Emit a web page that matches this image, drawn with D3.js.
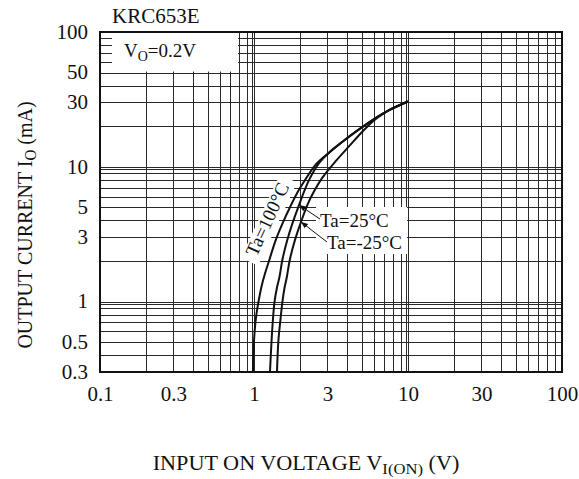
<!DOCTYPE html>
<html><head><meta charset="utf-8">
<script src="https://cdn.jsdelivr.net/npm/d3@7"></script>
<style>
body{margin:0;background:#fff;}
svg{display:block;}
text{font-family:"Liberation Serif","Times New Roman",serif;fill:#111;}
</style></head>
<body>
<script>
// ---- data ----
const title = "KRC653E";
const xTickValues = [0.1, 0.3, 1, 3, 10, 30, 100];
const xTickLabels = ["0.1", "0.3", "1", "3", "10", "30", "100"];
const yTickValues = [0.3, 0.5, 1, 3, 5, 10, 30, 50, 100];
const yTickLabels = ["0.3", "0.5", "1", "3", "5", "10", "30", "50", "100"];
// [V_I(ON) (V), I_O (mA)]
const ta100 = [[0.985,0.3],[1.0,0.51],[1.03,0.76],[1.07,1.0],[1.12,1.3],[1.18,1.62],[1.26,2.05],[1.38,2.83],[1.53,3.78],[1.74,5.2],[1.95,6.7],[2.15,8.0],[2.5,10.3],[3.04,12.6],[3.77,15.4],[4.73,18.7],[5.95,22.4],[7.59,26.4],[10,30.5]];
const ta25 = [[1.27,0.3],[1.3,0.51],[1.33,0.76],[1.36,1.0],[1.41,1.27],[1.46,1.5],[1.53,2.05],[1.64,2.83],[1.79,3.9],[1.96,5.2],[2.12,6.6],[2.28,8.0],[2.45,9.3],[2.65,10.7],[3.04,12.6],[3.77,15.4],[4.73,18.7],[5.95,22.4],[7.59,26.4],[10,30.5]];
const taM25 = [[1.41,0.3],[1.44,0.51],[1.49,0.76],[1.53,1.0],[1.58,1.27],[1.63,1.5],[1.71,2.05],[1.84,2.83],[2.02,3.9],[2.22,5.2],[2.46,6.6],[2.78,8.3],[3.39,11.0],[4.19,14.4],[4.96,17.8],[5.6,20.5],[6.3,23.0],[7.59,26.4],[10,30.5]];

const W = 579, H = 479;
const M = {left:100, right:562, top:32, bottom:372};
const FS = 20, SX = 1.05, FS2 = 19;

const svg = d3.select("body").append("svg").attr("width", W).attr("height", H);
const x = d3.scaleLog().domain([0.1, 100]).range([M.left, M.right]);
const y = d3.scaleLog().domain([0.3, 100]).range([M.bottom, M.top]);

// grid values
const xGrid = [];
[0.1, 1, 10].forEach(d => { for (let k = 1; k <= 9; k++) xGrid.push(d * k); });
const yGrid = [];
for (let k = 3; k <= 9; k++) yGrid.push(0.1 * k);
[1, 10].forEach(d => { for (let k = 1; k <= 9; k++) yGrid.push(d * k); });

const g = svg.append("g");
const gridCol = "#2a2a2a";
g.selectAll(".vg").data(xGrid.filter(v => v > 0.1)).enter().append("line")
  .attr("x1", d => Math.round(x(d)) + 0.5).attr("x2", d => Math.round(x(d)) + 0.5)
  .attr("y1", M.top).attr("y2", M.bottom).attr("stroke", gridCol).attr("stroke-width", 1);
g.selectAll(".vg2").data([1, 10]).enter().append("line")
  .attr("x1", d => Math.round(x(d)) - 1.5).attr("x2", d => Math.round(x(d)) - 1.5)
  .attr("y1", M.top).attr("y2", M.bottom).attr("stroke", gridCol).attr("stroke-width", 1);
g.selectAll(".hg").data(yGrid.filter(v => v > 0.3)).enter().append("line")
  .attr("y1", d => Math.round(y(d)) + 0.5).attr("y2", d => Math.round(y(d)) + 0.5)
  .attr("x1", M.left).attr("x2", M.right).attr("stroke", gridCol).attr("stroke-width", 1);
g.selectAll(".hg2").data([1, 10]).enter().append("line")
  .attr("y1", d => Math.round(y(d)) + 2.5).attr("y2", d => Math.round(y(d)) + 2.5)
  .attr("x1", M.left).attr("x2", M.right).attr("stroke", gridCol).attr("stroke-width", 1);

// white label backgrounds
svg.append("rect").attr("x", 112).attr("y", M.top).attr("width", x(0.8) - 113).attr("height", y(50) - M.top - 1).attr("fill", "#fff");
svg.append("rect").attr("x", 316).attr("y", 207).attr("width", 91).attr("height", 47).attr("fill", "#fff");
const lab100 = svg.append("g").attr("transform", "translate(273,222) rotate(-65)");
lab100.append("rect").attr("x", -46).attr("y", -14).attr("width", 92).attr("height", 19).attr("fill", "#fff");

// curves
const line = d3.line().x(d => x(d[0])).y(d => y(d[1])).curve(d3.curveCatmullRom.alpha(0.5));
[ta100, ta25, taM25].forEach(s => {
  svg.append("path").attr("d", line(s)).attr("fill", "none").attr("stroke", "#111").attr("stroke-width", 2);
});

// border
svg.append("rect").attr("x", M.left).attr("y", M.top).attr("width", M.right - M.left).attr("height", M.bottom - M.top)
  .attr("fill", "none").attr("stroke", "#111").attr("stroke-width", 2);

// axes tick labels
const xAxis = d3.axisBottom(x).tickValues(xTickValues).tickFormat((d, i) => xTickLabels[i]).tickSize(0).tickPadding(0);
const xa = svg.append("g").attr("transform", `translate(0,${M.bottom + 15})`).call(xAxis);
xa.select(".domain").remove();
xa.selectAll("text").attr("font-size", FS).attr("font-family", '"Liberation Serif",serif').attr("fill", "#111")
  .attr("dy", "0.71em").attr("transform", `scale(${SX},1)`);

const yAxis = d3.axisLeft(y).tickValues(yTickValues).tickFormat((d, i) => yTickLabels[i]).tickSize(0).tickPadding(0);
const ya = svg.append("g").attr("transform", `translate(${M.left - 12},0)`).call(yAxis);
ya.select(".domain").remove();
ya.selectAll("text").attr("font-size", FS).attr("font-family", '"Liberation Serif",serif').attr("fill", "#111")
  .attr("transform", `scale(${SX},1)`);

function stext(px, py, anchor, fs, sx) {
  return svg.append("text").attr("transform", `translate(${px},${py}) scale(${sx || 1},1)`)
    .attr("text-anchor", anchor || "start").attr("font-size", fs);
}
// title
stext(112, 23, "start", FS, SX).text(title);
// legend
const lg = stext(124, 57, "start", FS2);
lg.append("tspan").text("V");
lg.append("tspan").attr("font-size", 14).attr("dy", 4).text("O");
lg.append("tspan").attr("dy", -4).text("=0.2V");

// curve labels
lab100.append("text").attr("text-anchor", "middle").attr("font-size", FS2).text("Ta=100°C");
stext(320, 227, "start", FS2).text("Ta=25°C");
stext(327, 249, "start", FS2).text("Ta=-25°C");

// arrows
const defs = svg.append("defs");
defs.append("marker").attr("id", "ah").attr("viewBox", "0 0 10 10").attr("refX", 10).attr("refY", 5)
  .attr("markerWidth", 7).attr("markerHeight", 7).attr("orient", "auto")
  .append("path").attr("d", "M0,1 L10,5 L0,9 Z").attr("fill", "#111");
const a25 = [1.96, 5.2], aM25 = [2.02, 3.9];
svg.append("line").attr("x1", 320).attr("y1", 219).attr("x2", x(a25[0])).attr("y2", y(a25[1]))
  .attr("stroke", "#111").attr("stroke-width", 1).attr("marker-end", "url(#ah)");
svg.append("line").attr("x1", 327).attr("y1", 242).attr("x2", x(aM25[0])).attr("y2", y(aM25[1]))
  .attr("stroke", "#111").attr("stroke-width", 1).attr("marker-end", "url(#ah)");

// axis titles
const xt = stext(306, 470, "middle", FS, 1.11);
xt.append("tspan").text("INPUT ON VOLTAGE  V");
xt.append("tspan").attr("font-size", 15).attr("dy", 4).text("I(ON)");
xt.append("tspan").attr("dy", -4).text(" (V)");

const yt = svg.append("text").attr("transform", `translate(32,225) rotate(-90) scale(1,1.1)`).attr("text-anchor", "middle").attr("font-size", 20);
yt.append("tspan").text("OUTPUT CURRENT  I");
yt.append("tspan").attr("font-size", 15).attr("dy", 4).text("O");
yt.append("tspan").attr("dy", -4).text(" (mA)");
</script>
</body></html>
